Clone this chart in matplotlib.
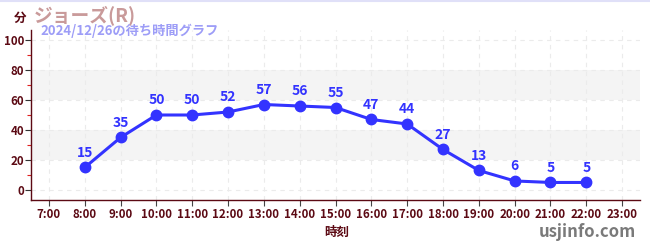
import matplotlib
matplotlib.use("Agg")
import matplotlib.pyplot as plt
from matplotlib.ticker import FixedLocator

plt.rcParams["font.family"] = ["Noto Sans CJK JP", "DejaVu Sans"]

hours = [8, 9, 10, 11, 12, 13, 14, 15, 16, 17, 18, 19, 20, 21, 22]
waits = [15, 35, 50, 50, 52, 57, 56, 55, 47, 44, 27, 13, 6, 5, 5]
tick_hours = list(range(7, 24))
tick_labels = [f"{h}:00" for h in tick_hours]
y_ticks = [0, 20, 40, 60, 80, 100]
bands = [(20, 40), (60, 80)]

DARK = "#5c0a14"
LINE = "#3333ff"

fig = plt.figure(figsize=(6.5, 2.5), dpi=100)
ax = fig.add_axes([0.0477, 0.2, 0.937, 0.68])

for lo, hi in bands:
    ax.axhspan(lo, hi, color="#f4f4f4", zorder=0, linewidth=0)

ax.plot(hours, waits, color=LINE, linewidth=2.2, marker="o", markersize=7.5, zorder=3)
for h, w in zip(hours, waits):
    ax.annotate(str(w), (h, w), xytext=(0, 5.5), textcoords="offset points",
                ha="center", va="bottom", color=LINE, fontsize=10, fontweight="bold")

ax.set_xlim(6.5, 23.5)
ax.set_ylim(-6.7, 106.7)
ax.xaxis.set_major_locator(FixedLocator(tick_hours))
ax.set_xticklabels(tick_labels)
ax.yaxis.set_major_locator(FixedLocator(y_ticks))
ax.yaxis.set_minor_locator(FixedLocator([10, 30, 50, 70, 90]))

ax.grid(True, which="major", linestyle=(0, (4, 4)), color="#ebebeb", linewidth=0.8, zorder=1)
ax.set_axisbelow(True)

for side in ("top", "right"):
    ax.spines[side].set_visible(False)
for side in ("left", "bottom"):
    ax.spines[side].set_color(DARK)
    ax.spines[side].set_linewidth(1.0)

ax.tick_params(axis="x", which="major", colors="#444444", labelcolor=DARK, labelsize=8.3,
               length=4, width=0.8, pad=2)
ax.tick_params(axis="y", which="major", colors="#333333", labelcolor=DARK, labelsize=8.3,
               length=4, width=0.8, pad=1)
ax.tick_params(axis="y", which="minor", colors="#e02020", length=3, width=0.8)
for lbl in ax.get_xticklabels() + ax.get_yticklabels():
    lbl.set_fontweight("bold")

fig.text(14 / 650, 1 - 18 / 250, "分", color=DARK, fontsize=9, fontweight="bold",
         ha="left", va="center")
fig.text(34 / 650, 1 - 15 / 250, "ジョーズ(R)", color="#c99a9a", fontsize=13.5,
         fontweight="bold", ha="left", va="center")
fig.text(40 / 650, 1 - 31 / 250, "2024/12/26の待ち時間グラフ", color="#9d9df7",
         fontsize=9.5, fontweight="bold", ha="left", va="center")
fig.text(337 / 650, 1 - 232 / 250, "時刻", color=DARK, fontsize=9, fontweight="bold",
         ha="center", va="center")
fig.text(636 / 650, 1 - 232 / 250, "usjinfo.com", color="#7a7a7a", fontsize=12,
         fontweight="bold", ha="right", va="center")
fig.add_artist(plt.Line2D([0, 1], [0.998, 0.998], color="#e0e0f8", linewidth=1.5))

fig.savefig("out.png", dpi=100)
